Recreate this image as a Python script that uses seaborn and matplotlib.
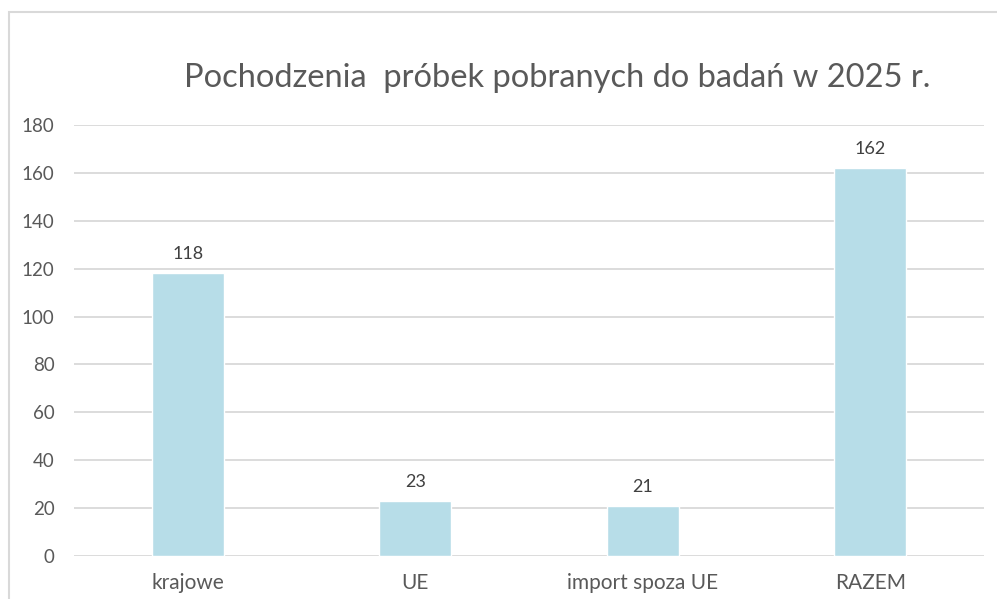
import pandas as pd
import seaborn as sns
import matplotlib.pyplot as plt
from matplotlib.patches import Rectangle

# data
kategorie = ['krajowe', 'UE', 'import spoza UE', 'RAZEM']
liczba_probek = [118, 23, 21, 162]
tytul = 'Pochodzenia  próbek pobranych do badań w 2025 r.'

df = pd.DataFrame({'kategoria': kategorie, 'liczba': liczba_probek})

sns.set_theme(style='white')
plt.rcParams['font.family'] = ['Lato', 'DejaVu Sans']

fig = plt.figure(figsize=(9.97, 5.99), dpi=100)
ax = fig.add_axes([74 / 997, 1 - 556 / 599, (984 - 74) / 997, (556 - 125) / 599])

sns.barplot(data=df, x='kategoria', y='liczba', color='#B7DDE8',
            width=0.316, saturation=1, ax=ax, zorder=3)

ax.set_ylim(0, 180)
ax.set_yticks(range(0, 181, 20))
ax.yaxis.grid(True, color='#D9D9D9', linewidth=1.3, zorder=0)
ax.set_axisbelow(True)
sns.despine(ax=ax, left=True, bottom=True, top=True, right=True)
ax.tick_params(axis='y', length=0, pad=14, labelsize=13.5, labelcolor='#595959')
ax.tick_params(axis='x', length=0, pad=12, labelsize=15, labelcolor='#595959')
ax.set_xlabel('')
ax.set_ylabel('')

ax.bar_label(ax.containers[0], padding=8, fontsize=13, color='#404040')

fig.text(557 / 997, 1 - 78 / 599, tytul, ha='center', va='center',
         fontsize=23.5, color='#595959')

# light grey chart border (cut off at right and bottom)
fig.patches.append(Rectangle((9 / 997, -0.2), 1.2, 1.2 - 12 / 599,
                             transform=fig.transFigure, fill=False,
                             edgecolor='#D9D9D9', linewidth=1.5))

plt.savefig('out.png', dpi=100)
